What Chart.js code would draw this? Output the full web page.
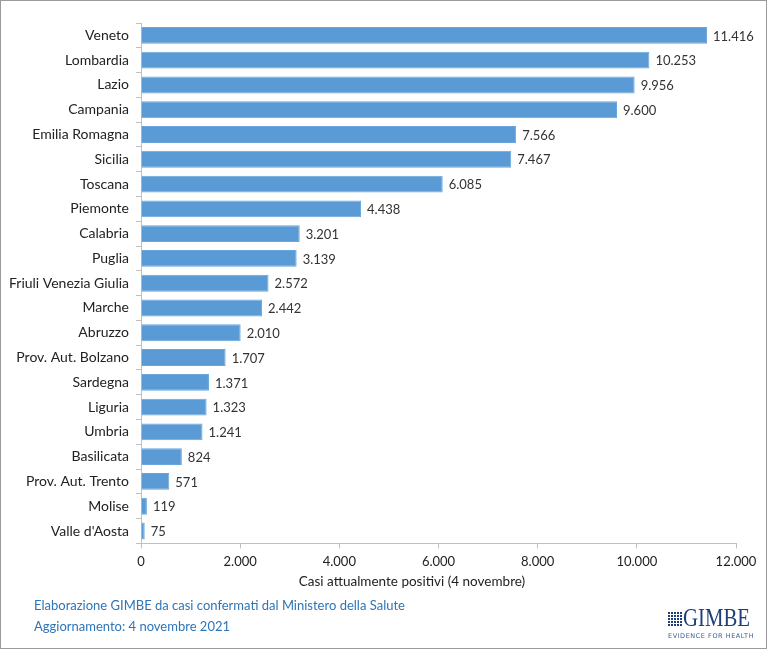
<!DOCTYPE html>
<html>
<head>
<meta charset="utf-8">
<script src="https://cdn.jsdelivr.net/npm/chart.js@4"></script>
<style>
  html, body { margin:0; padding:0; background:#fff; }
  #wrap { position:relative; width:767px; height:649px; box-sizing:border-box; border:1px solid #9a9a9a; overflow:hidden; background:#fff; }
  #c { position:absolute; left:0; top:0; }
  .foot { position:absolute; left:33px; font-family:Lato, "Open Sans", sans-serif; font-size:13px; color:#2e75b6; }
  #xtitle { position:absolute; left:211px; width:400px; top:572px; text-align:center; font-family:Lato, "Open Sans", sans-serif; font-size:13.5px; color:#222; }
  #ltxt { position:absolute; left:682px; top:602px; font-family:"Liberation Serif", serif; font-size:26px; line-height:30px; color:#1f3f7a; transform:scaleX(0.8); transform-origin:left top; }
  #lsub { position:absolute; left:667px; top:631px; font-family:"DejaVu Sans", sans-serif; font-size:6.5px; line-height:9px; color:#3a5f95; letter-spacing:0.55px; white-space:nowrap; }
  #lgrid { position:absolute; left:667px; top:611px; width:15px; height:15px;
     background-image: linear-gradient(90deg, transparent 2px, #fff 2px), linear-gradient(transparent 2px, #fff 2px);
     background-size:3px 3px; background-color:#1f3f7a; }
</style>
</head>
<body>
<div id="wrap">
  <canvas id="c" width="767" height="649"></canvas>
  <div id="xtitle"></div>
  <div class="foot" style="top:596px;">Elaborazione GIMBE da casi confermati dal Ministero della Salute</div>
  <div class="foot" style="top:617px;">Aggiornamento: 4 novembre 2021</div>
  <div id="lgrid"></div><div id="ltxt">GIMBE</div><div id="lsub">EVIDENCE FOR HEALTH</div>
</div>
<script>
const regions = ["Veneto","Lombardia","Lazio","Campania","Emilia Romagna","Sicilia","Toscana","Piemonte","Calabria","Puglia","Friuli Venezia Giulia","Marche","Abruzzo","Prov. Aut. Bolzano","Sardegna","Liguria","Umbria","Basilicata","Prov. Aut. Trento","Molise","Valle d'Aosta"];
const casi = [11416,10253,9956,9600,7566,7467,6085,4438,3201,3139,2572,2442,2010,1707,1371,1323,1241,824,571,119,75];
const xTicks = [0,2000,4000,6000,8000,10000,12000];
const xTitle = "Casi attualmente positivi (4 novembre)";
document.getElementById('xtitle').textContent = xTitle;

function fmt(v){ return String(Math.round(v)).replace(/\B(?=(\d{3})+(?!\d))/g, "."); }

const FONT = 'Lato, "Open Sans", sans-serif';
const labelPlugin = {
  id:'barLabels',
  afterDatasetsDraw(chart){
    const ctx = chart.ctx;
    const meta = chart.getDatasetMeta(0);
    ctx.save();
    ctx.font = '13px ' + FONT;
    ctx.fillStyle = '#333';
    ctx.textAlign = 'left';
    ctx.textBaseline = 'middle';
    meta.data.forEach((bar,i)=>{
      ctx.fillText(fmt(casi[i]), bar.x + 6, bar.y + 1);
    });
    ctx.restore();
  }
};

new Chart(document.getElementById('c'), {
  type:'bar',
  data:{ labels:regions, datasets:[{ data:casi, backgroundColor:'#5b9bd5', borderColor:'#6aa6dc', borderWidth:1, barPercentage:0.68, categoryPercentage:1 }] },
  options:{
    indexAxis:'y',
    responsive:false,
    animation:false,
    layout:{ padding:{ left:0, right:32, top:22, bottom:74 } },
    plugins:{ legend:{display:false}, tooltip:{enabled:false} },
    scales:{
      y:{
        afterFit(s){ s.width = 140; },
        grid:{ offset:true, drawOnChartArea:false, tickLength:5, color:'#c0c0c0' },
        border:{ color:'#c0c0c0' },
        ticks:{ color:'#222', font:{ family:FONT, size:14 }, padding:7, autoSkip:false }
      },
      x:{
        min:0, max:12000,
        afterBuildTicks(s){ s.ticks = xTicks.map(v=>({value:v})); },
        grid:{ drawOnChartArea:false, tickLength:5, color:'#c0c0c0' },
        border:{ color:'#c0c0c0' },
        ticks:{ color:'#222', font:{ family:FONT, size:13 }, padding:6, maxRotation:0, callback:(v)=>fmt(v) }
      }
    }
  },
  plugins:[labelPlugin]
});
</script>
</body>
</html>
